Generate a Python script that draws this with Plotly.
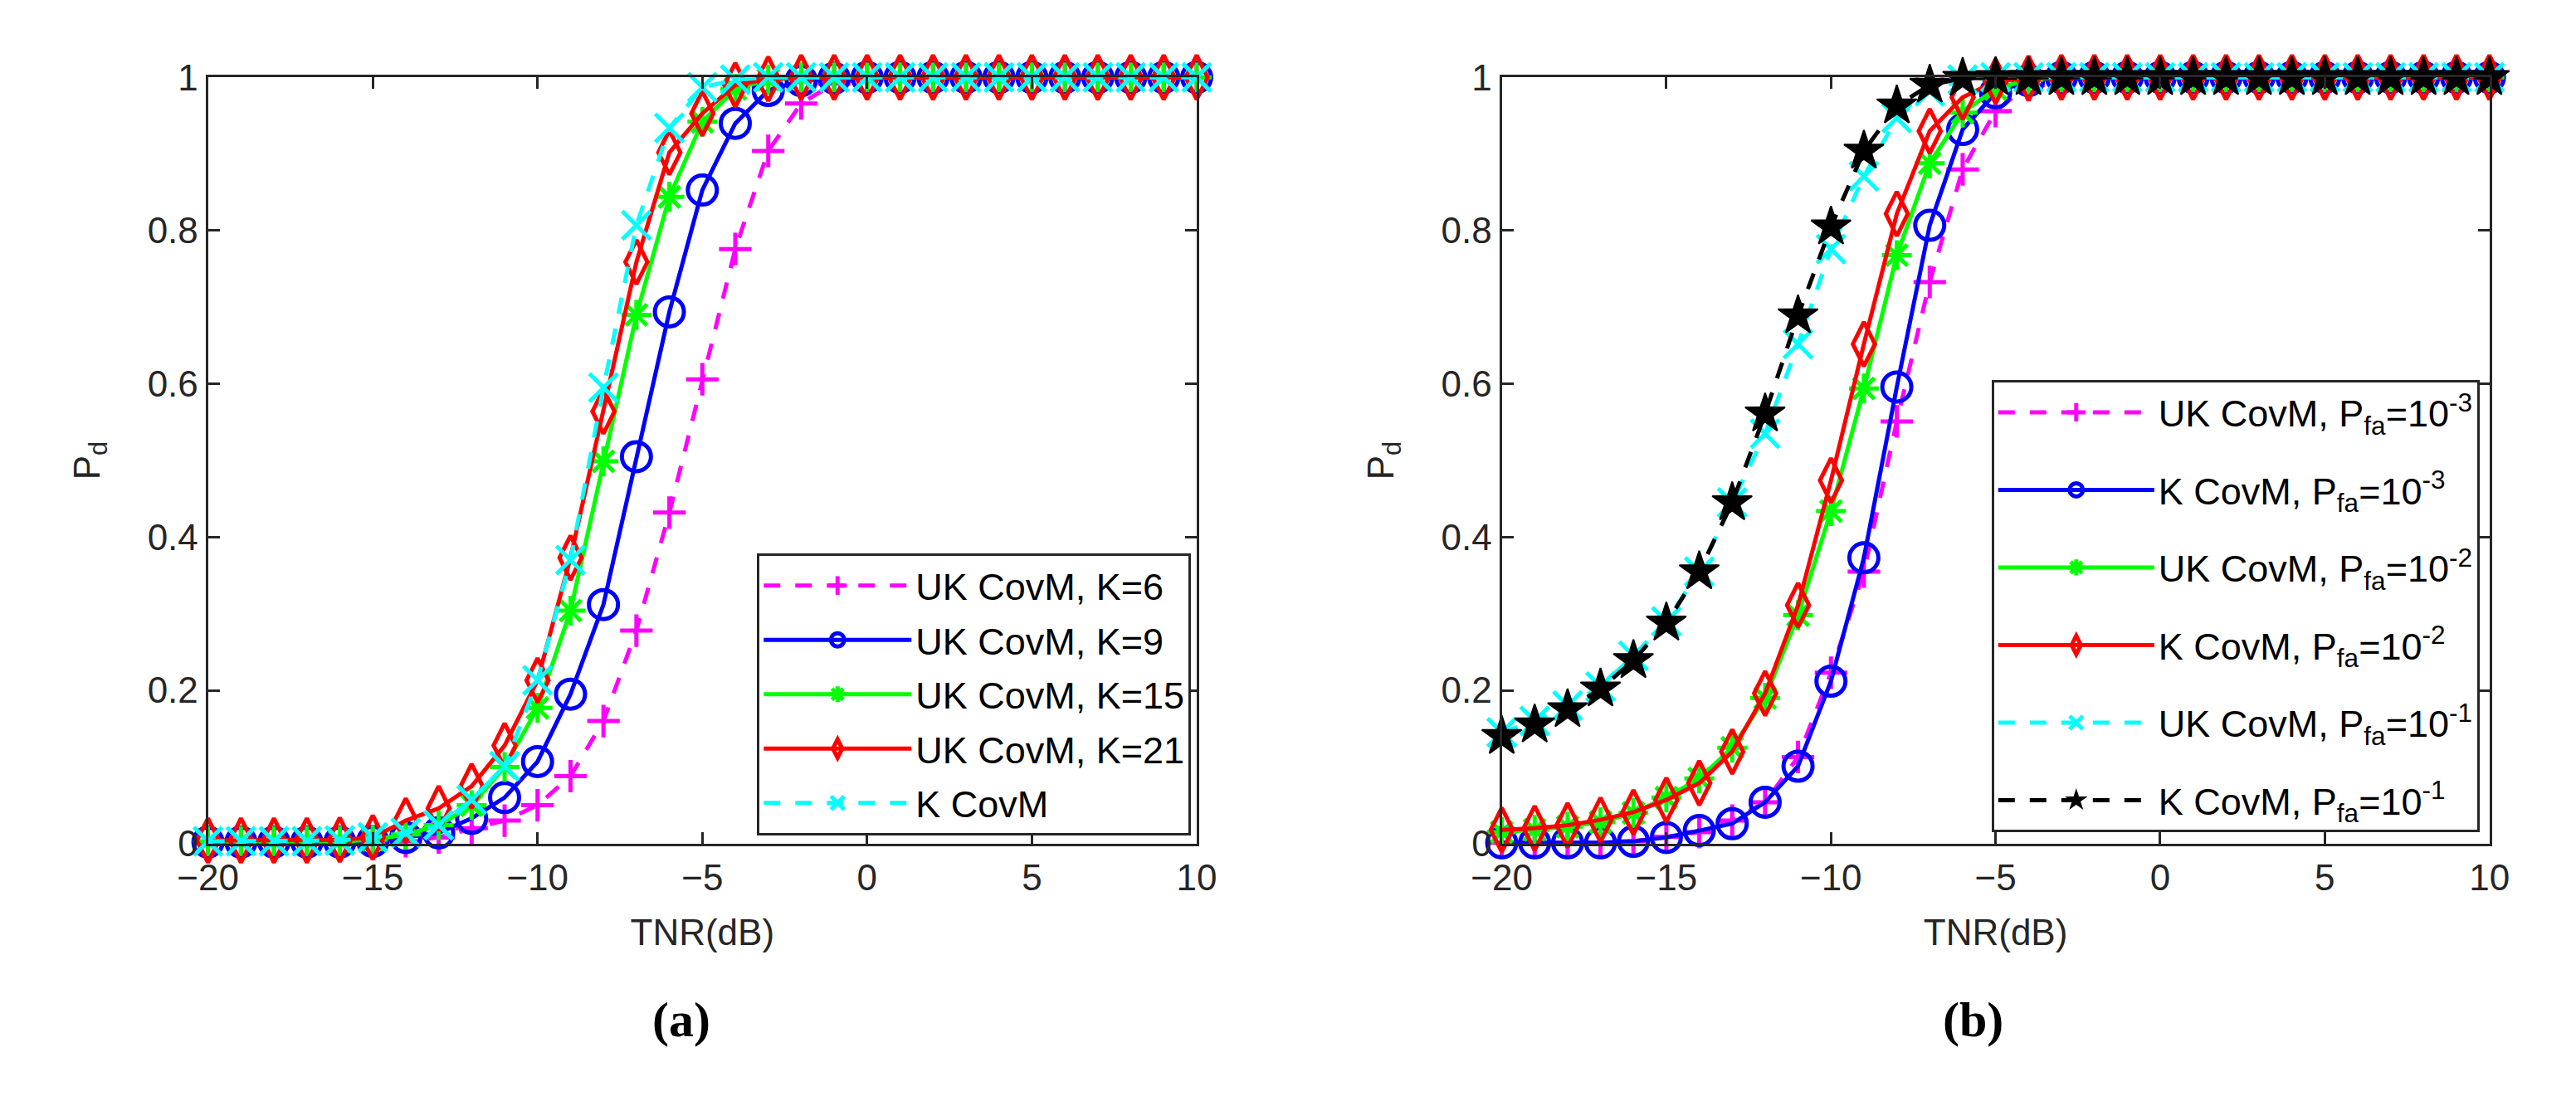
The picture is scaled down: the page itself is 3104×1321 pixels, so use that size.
import plotly.graph_objects as go

# TNR axis, -20 dB to 10 dB in 1 dB steps
tnr = list(range(-20, 11))

# panel (a): detection probability for different K
pd_uk_k6 = [0.001, 0.001, 0.001, 0.001, 0.001, 0.002, 0.003, 0.008, 0.02, 0.03, 0.05,
            0.088, 0.16, 0.278, 0.432, 0.606, 0.776, 0.904, 0.966, 0.992, 0.999] + [1.0] * 10
pd_uk_k9 = [0.002, 0.002, 0.002, 0.002, 0.002, 0.003, 0.008, 0.014, 0.033, 0.06, 0.107,
            0.195, 0.312, 0.505, 0.694, 0.853, 0.94, 0.983, 0.996, 0.999, 1.0] + [1.0] * 10
pd_uk_k15 = [0.003, 0.003, 0.003, 0.003, 0.003, 0.005, 0.012, 0.024, 0.05, 0.1, 0.177,
             0.304, 0.499, 0.69, 0.844, 0.942, 0.985, 0.997, 1.0, 1.0, 1.0] + [1.0] * 10
pd_uk_k21 = [0.004, 0.004, 0.004, 0.004, 0.005, 0.008, 0.03, 0.046, 0.075, 0.128, 0.213,
             0.373, 0.564, 0.759, 0.902, 0.953, 0.99, 0.998, 1.0, 1.0, 1.0] + [1.0] * 10
pd_k = [0.003, 0.003, 0.003, 0.003, 0.004, 0.008, 0.014, 0.024, 0.057, 0.101, 0.213,
        0.37, 0.595, 0.807, 0.934, 0.987, 0.997, 1.0, 1.0, 1.0, 1.0] + [1.0] * 10

# panel (b): detection probability for different Pfa
pd_uk_3 = [0.001, 0.001, 0.001, 0.001, 0.003, 0.009, 0.015, 0.03, 0.054, 0.113, 0.223,
           0.355, 0.551, 0.733, 0.88, 0.956, 0.99, 0.998, 1.0, 1.0, 1.0] + [1.0] * 10
pd_k_3 = [0.001, 0.001, 0.001, 0.001, 0.003, 0.008, 0.017, 0.026, 0.054, 0.101, 0.212,
          0.373, 0.596, 0.807, 0.932, 0.98, 0.996, 1.0, 1.0, 1.0, 1.0] + [1.0] * 10
pd_uk_2 = [0.015, 0.018, 0.022, 0.028, 0.04, 0.06, 0.085, 0.125, 0.19, 0.298, 0.434,
           0.594, 0.768, 0.888, 0.954, 0.985, 0.997, 1.0, 1.0, 1.0, 1.0] + [1.0] * 10
pd_k_2 = [0.018, 0.02, 0.024, 0.031, 0.041, 0.057, 0.079, 0.12, 0.196, 0.311, 0.474,
          0.652, 0.822, 0.93, 0.974, 0.995, 0.999, 1.0, 1.0, 1.0, 1.0] + [1.0] * 10
pd_uk_1 = [0.145, 0.16, 0.18, 0.205, 0.245, 0.29, 0.355, 0.445, 0.535, 0.652, 0.776,
           0.871, 0.947, 0.982, 0.997, 1.0, 1.0, 1.0, 1.0, 1.0, 1.0] + [1.0] * 10
pd_k_1 = [0.14, 0.155, 0.175, 0.202, 0.239, 0.288, 0.355, 0.445, 0.561, 0.689, 0.805,
          0.904, 0.963, 0.99, 0.999, 1.0, 1.0, 1.0, 1.0, 1.0, 1.0] + [1.0] * 10

xticks = [-20, -15, -10, -5, 0, 5, 10]
yticks = [0, 0.2, 0.4, 0.6, 0.8, 1]
yticktext = ["0", "0.2", "0.4", "0.6", "0.8", "1"]

FONT = "Liberation Sans, Arial, sans-serif"
AX = "#262626"
DASH = "20px,18px"

# (name, y, colour, dash, symbol, size, marker line width)
left = [
    ("UK CovM, K=6", pd_uk_k6, "#ff00ff", DASH, "cross-thin-open", 28, 5),
    ("UK CovM, K=9", pd_uk_k9, "#0000ff", "solid", "circle-open", 35, 5),
    ("UK CovM, K=15", pd_uk_k15, "#00ff00", "solid", "asterisk-open", 30, 5),
    ("UK CovM, K=21", pd_uk_k21, "#ff0000", "solid", "diamond-tall-open", 38, 5),
    ("K CovM", pd_k, "#00ffff", DASH, "x-thin-open", 34, 5),
]
pf = "P<sub>fa</sub>=10<sup>%s</sup>"
right = [
    ("UK CovM, " + pf % "-3", pd_uk_3, "#ff00ff", DASH, "cross-thin-open", 28, 5),
    ("K CovM, " + pf % "-3", pd_k_3, "#0000ff", "solid", "circle-open", 35, 5),
    ("UK CovM, " + pf % "-2", pd_uk_2, "#00ff00", "solid", "asterisk-open", 30, 5),
    ("K CovM, " + pf % "-2", pd_k_2, "#ff0000", "solid", "diamond-tall-open", 38, 5),
    ("UK CovM, " + pf % "-1", pd_uk_1, "#00ffff", DASH, "x-thin-open", 34, 5),
    ("K CovM, " + pf % "-1", pd_k_1, "#000000", DASH, "star", 36, 2),
]

fig = go.Figure()
for i, (name, y, c, dash, sym, sz, mlw) in enumerate(left):
    fig.add_trace(go.Scatter(
        x=tnr, y=y, name=name, mode="lines+markers", xaxis="x", yaxis="y",
        line=dict(color=c, width=5, dash=dash),
        marker=dict(symbol=sym, size=sz, color=c, line=dict(color=c, width=mlw)),
        cliponaxis=False, legend="legend", legendgroup="a%d" % i))
for i, (name, y, c, dash, sym, sz, mlw) in enumerate(right):
    fig.add_trace(go.Scatter(
        x=tnr, y=y, name=name, mode="lines+markers", xaxis="x2", yaxis="y2",
        line=dict(color=c, width=5, dash=dash),
        marker=dict(symbol=sym, size=sz, color=c, line=dict(color=c, width=mlw)),
        cliponaxis=False, legend="legend2", legendgroup="b%d" % i))

axis_style = dict(showline=True, linewidth=3, linecolor=AX, mirror="ticks",
                  ticks="inside", ticklen=14, tickwidth=3, tickcolor=AX,
                  showgrid=False, zeroline=False,
                  tickfont=dict(family=FONT, size=44, color=AX))
xa = dict(axis_style, range=[-20, 10], tickvals=xticks,
          title=dict(text="TNR(dB)", font=dict(family=FONT, size=44, color=AX), standoff=28))
ya = dict(axis_style, range=[0, 1], tickvals=yticks, ticktext=yticktext,
          title=dict(text="P<sub>d</sub>", font=dict(family=FONT, size=44, color=AX), standoff=44))

y0, y1 = 0.2203, 0.9463
leg = dict(bgcolor="white", bordercolor=AX, borderwidth=3,
           font=dict(family=FONT, size=45, color="black"),
           xanchor="right", yanchor="bottom")
cap_font = dict(family="Liberation Serif, Times New Roman, serif", size=60, color="black")

fig.update_layout(
    width=3104, height=1321,
    margin=dict(l=0, r=0, t=0, b=0),
    paper_bgcolor="white", plot_bgcolor="white",
    showlegend=True,
    xaxis=dict(xa, domain=[0.0702, 0.4617], anchor="y"),
    yaxis=dict(ya, domain=[y0, y1], anchor="x"),
    xaxis2=dict(xa, domain=[0.5825, 0.9736], anchor="y2"),
    yaxis2=dict(ya, domain=[y0, y1], anchor="x2"),
    legend=dict(leg, x=0.4595, y=0.228, itemwidth=178, tracegroupgap=4),
    legend2=dict(leg, x=0.9697, y=0.231, itemwidth=188, tracegroupgap=32),
    annotations=[
        dict(text="<b>(a)</b>", x=0.2577, y=0.0537, xref="paper", yref="paper",
             xanchor="center", yanchor="middle", showarrow=False, font=cap_font),
        dict(text="<b>(b)</b>", x=0.769, y=0.0537, xref="paper", yref="paper",
             xanchor="center", yanchor="middle", showarrow=False, font=cap_font),
    ],
)

fig.write_html("out.html", config={"displayModeBar": False},
               post_script="document.body.style.margin='0';document.body.style.overflow='hidden';")
